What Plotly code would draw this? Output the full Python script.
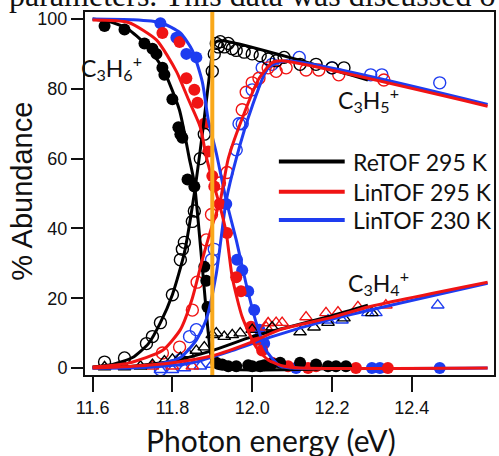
import plotly.graph_objects as go

# ---------------- data ----------------
# ReTOF 295 K (black)
re_c3h6_x = [11.63, 11.68, 11.73, 11.75, 11.76, 11.775, 11.78, 11.80, 11.815, 11.82, 11.825, 11.838, 11.855,
             11.88, 11.885, 11.888, 11.91, 11.925, 11.94, 11.96, 11.99, 12.0, 12.02, 12.03, 12.05, 12.07,
             12.12, 12.16, 12.19, 12.21, 12.235]
re_c3h6_y = [98, 97, 93, 91.5, 90, 86, 84, 77, 69, 67, 66, 54, 52,
             29, 25, 17.5, 1.5, 1, 0.5, 0.5, 0.8, 0.5, 0.5, 0.8, 1.2, 1.5,
             1.5, 1, 0.5, 0.5, 0.5]
re_c3h5_x = [11.63, 11.68, 11.735, 11.75, 11.77, 11.80, 11.82, 11.825, 11.83, 11.85, 11.855, 11.87, 11.88,
             11.9, 11.905, 11.91, 11.915, 11.92, 11.93, 11.94, 11.95, 11.96, 11.98, 12.0, 12.02, 12.04,
             12.06, 12.08, 12.12, 12.16, 12.2, 12.23]
re_c3h5_y = [1.7, 2.9, 7, 9, 13, 21, 31, 34, 36, 42, 45, 60, 67,
             85, 90, 93, 92, 93.5, 92, 93, 91.5, 91, 90.5, 90, 89.5, 88.5,
             88, 89, 87, 87, 86, 86]
re_c3h4_x = [11.63, 11.68, 11.72, 11.75, 11.78, 11.80, 11.82, 11.84, 11.86, 11.88, 11.9, 11.91, 11.93,
             11.95, 11.97, 12.0, 12.05, 12.12, 12.155, 12.19, 12.23, 12.3]
re_c3h4_y = [0.3, 0.3, 0.5, 1, 2, 2.5, 3, 4, 5, 6, 9.5, 10, 9,
             9.5, 10, 11, 11.7, 10.3, 11.7, 13, 14.3, 15.8]
re_fit6_x = [11.6, 11.65, 11.69, 11.73, 11.775, 11.8175, 11.8425, 11.855, 11.875, 11.89, 11.9, 11.91, 12.25]
re_fit6_y = [100, 99, 97, 93, 86, 74, 60, 53, 29, 10, 1.5, 0, 0]
re_fit5_x = [11.6, 11.65, 11.7, 11.74, 11.77, 11.8, 11.83, 11.855, 11.875, 11.8975, 11.905, 11.92, 12.29]
re_fit5_y = [0.3, 1, 3, 7, 13, 21, 33, 50, 67, 88, 93, 93.8, 82.5]
re_fit4_x = [11.6, 11.7, 11.8, 11.9, 12.0, 12.1, 12.2, 12.29]
re_fit4_y = [0, 0.5, 2, 5, 9, 12, 15, 18]

# LinTOF 295 K (red)
l295_c3h6_x = [11.775, 11.818, 11.835, 11.855, 11.863, 11.88, 11.89, 11.9, 11.905, 11.918, 11.937, 11.96,
               11.972, 11.997, 12.01, 12.025, 12.05, 12.09, 12.14, 12.16, 12.26, 12.34]
l295_c3h6_y = [96, 93.4, 83, 79.7, 76, 70, 62, 55, 52, 47, 38.7, 26,
               22, 11.8, 8, 5, 1.5, 0.5, 0, 0.5, 0, 0]
l295_c3h5_x = [11.775, 11.818, 11.85, 11.862, 11.885, 11.898, 11.918, 11.937, 11.975, 11.985, 12.0, 12.017,
               12.04, 12.06, 12.085, 12.135, 12.167, 12.217, 12.33]
l295_c3h5_y = [4.3, 6, 16.6, 24.6, 36.7, 44, 53, 56, 74, 79, 81.7, 83,
               86, 85, 86, 85.4, 85.4, 84, 82.5]
l295_c3h4_x = [11.75, 11.8, 11.85, 12.035, 12.04, 12.06, 12.075, 12.135, 12.185, 12.215, 12.265, 12.335]
l295_c3h4_y = [0.5, 0.5, 0.5, 11.7, 12.9, 13, 13, 14.6, 15.8, 16, 17.5, 18]
l295_fit6_x = [11.6, 11.69, 11.76, 11.81, 11.84, 11.87, 11.885, 11.9, 11.92, 11.935, 11.95, 11.975,
               12.01, 12.04, 12.08, 12.12, 12.59]
l295_fit6_y = [99.7, 99, 94, 85, 77, 69, 60.5, 54, 46, 38.7, 26, 14.6,
               6, 2.3, 0.5, 0, 0]
l295_fit5_x = [11.6, 11.69, 11.775, 11.82, 11.85, 11.875, 11.8975, 11.92, 11.94, 11.98, 12.0175, 12.05,
               12.075, 12.59]
l295_fit5_y = [0.3, 1.4, 5, 11, 20, 31, 40, 48, 60, 73, 83, 87.5,
               88, 75]
l295_fit4_x = [11.6, 11.7, 11.8, 11.9, 12.0, 12.07, 12.2, 12.29, 12.59]
l295_fit4_y = [0, 0.5, 1.5, 3.5, 7.5, 11, 14.5, 17.5, 24.6]

# LinTOF 230 K (blue)
l230_c3h6_x = [11.77, 11.81, 11.835, 11.86, 11.935, 11.962, 11.975, 11.99, 12.005, 12.018, 12.03,
               12.11, 12.3, 12.32, 12.47]
l230_c3h6_y = [98.8, 94.6, 90, 89, 47, 31, 28, 22, 16.6, 11, 7,
               0, 0, 0, 0]
l230_c3h5_x = [11.77, 11.82, 11.843, 11.86, 11.898, 11.905, 11.96, 11.967, 11.975, 12.0, 12.025, 12.05,
               12.118, 12.2, 12.297, 12.325, 12.47]
l230_c3h5_y = [-0.5, 2.3, 9, 11, 31, 34, 62.5, 70, 70, 79.7, 86, 87,
               89, 86, 84, 84, 81.7]
l230_c3h4_x = [11.77, 11.8, 11.83, 11.87, 11.9, 12.19, 12.225, 12.29, 12.31, 12.465]
l230_c3h4_y = [-0.5, -0.5, 0, 0.5, 1, 13.7, 13.7, 15.8, 15.8, 18]
l230_fit6_x = [11.6, 11.7, 11.77, 11.82, 11.85, 11.875, 11.89, 11.91, 11.935, 11.96, 11.985, 12.01,
               12.035, 12.07, 12.1, 12.59]
l230_fit6_y = [100, 99.8, 99, 96, 91, 82, 71, 61.6, 48, 36.7, 24, 13,
               5, 0.5, 0, 0]
l230_fit5_x = [11.6, 11.73, 11.82, 11.86, 11.885, 11.91, 11.935, 11.96, 12.0, 12.04, 12.085, 12.59]
l230_fit5_y = [0, 0.3, 3, 8, 14, 27, 48, 60, 75, 86, 88, 75.5]
l230_fit4_x = [11.6, 11.75, 11.85, 11.95, 12.05, 12.2, 12.59]
l230_fit4_y = [0, 0.3, 1.5, 5, 9, 14, 24.3]

threshold_ev = 11.9
x_ticks = [11.6, 11.8, 12.0, 12.2, 12.4]
y_ticks = [0, 20, 40, 60, 80, 100]
legend_names = ["ReTOF 295 K", "LinTOF 295 K", "LinTOF 230 K"]

# ---------------- styling ----------------
BLACK, RED, BLUE, ORANGE = "#000000", "#F01414", "#1E3CF0", "#F9A81B"
LABEL_FONT = "Lato"

fig = go.Figure()

def marks(x, y, color, symbol):
    filled = not symbol.endswith("open")
    fig.add_trace(go.Scatter(
        x=x, y=y, mode="markers", showlegend=False, hoverinfo="skip",
        marker=dict(symbol=symbol, size=12 if "circle" in symbol else 11,
                    color=color, line=dict(color=color, width=1.4 if not filled else 0))))

def fit(x, y, color):
    fig.add_trace(go.Scatter(x=x, y=y, mode="lines", showlegend=False, hoverinfo="skip",
                             line=dict(color=color, width=3, shape="spline", smoothing=0.6)))

# markers
marks(l230_c3h4_x, l230_c3h4_y, BLUE, "triangle-up-open")
marks(l230_c3h5_x, l230_c3h5_y, BLUE, "circle-open")
marks(l230_c3h6_x, l230_c3h6_y, BLUE, "circle")
marks(l295_c3h4_x, l295_c3h4_y, RED, "triangle-up-open")
marks(l295_c3h5_x, l295_c3h5_y, RED, "circle-open")
marks(l295_c3h6_x, l295_c3h6_y, RED, "circle")
marks(re_c3h4_x, re_c3h4_y, BLACK, "triangle-up-open")
marks(re_c3h5_x, re_c3h5_y, BLACK, "circle-open")
marks(re_c3h6_x, re_c3h6_y, BLACK, "circle")

# fits
fit(re_fit4_x, re_fit4_y, BLACK)
fit(re_fit5_x, re_fit5_y, BLACK)
fit(re_fit6_x, re_fit6_y, BLACK)
fit(l230_fit4_x, l230_fit4_y, BLUE)
fit(l230_fit5_x, l230_fit5_y, BLUE)
fit(l230_fit6_x, l230_fit6_y, BLUE)
fit(l295_fit4_x, l295_fit4_y, RED)
fit(l295_fit5_x, l295_fit5_y, RED)
fit(l295_fit6_x, l295_fit6_y, RED)

shapes = [dict(type="line", xref="x", yref="paper", x0=threshold_ev, x1=threshold_ev, y0=0, y1=1,
               line=dict(color=ORANGE, width=4), layer="above")]

annotations = []
# manual legend
leg_y = [0.588, 0.505, 0.427]
for name, col, yy in zip(legend_names, [BLACK, RED, BLUE], leg_y):
    shapes.append(dict(type="line", xref="paper", yref="paper", x0=0.474, x1=0.635, y0=yy, y1=yy,
                       line=dict(color=col, width=4)))
    annotations.append(dict(xref="paper", yref="paper", x=0.650, y=yy, xanchor="left", yanchor="middle",
                            text=name, showarrow=False, font=dict(family=LABEL_FONT, size=23, color="#111")))

# species labels
for txt, xx, yy in [("C<sub>3</sub>H<sub>6</sub><sup>+</sup>", 11.648, 86),
                    ("C<sub>3</sub>H<sub>5</sub><sup>+</sup>", 12.292, 77),
                    ("C<sub>3</sub>H<sub>4</sub><sup>+</sup>", 12.317, 24.5)]:
    annotations.append(dict(x=xx, y=yy, text=txt, showarrow=False, xanchor="center", yanchor="middle",
                            font=dict(family=LABEL_FONT, size=23, color="#111")))

# axis titles
annotations.append(dict(xref="paper", yref="paper", x=0.455, y=-0.179, text="Photon energy (eV)",
                        showarrow=False, xanchor="center", yanchor="middle",
                        font=dict(family=LABEL_FONT, size=30, color="#111")))
annotations.append(dict(xref="paper", yref="paper", x=-0.154, y=0.505, text="% Abundance", textangle=-90,
                        showarrow=False, xanchor="center", yanchor="middle",
                        font=dict(family="Liberation Sans", size=29, color="#111")))
# cropped caption text at the very top
annotations.append(dict(xref="paper", yref="paper", x=-0.19, y=1, yshift=-3, xanchor="left", yanchor="bottom",
                        text="parameters. This data was discussed o", showarrow=False,
                        font=dict(family="Liberation Serif", size=32, color="#111")))

fig.update_layout(
    width=499, height=456,
    margin=dict(l=85, r=3, t=12, b=81),
    paper_bgcolor="white", plot_bgcolor="white",
    shapes=shapes, annotations=annotations,
    xaxis=dict(range=[11.581, 12.606], tickvals=x_ticks, ticktext=[f"{v:.1f}" for v in x_ticks],
               ticks="outside", ticklen=15, tickwidth=2, tickcolor="#111",
               showline=True, mirror=True, linecolor="#111", linewidth=2, showgrid=False, zeroline=False,
               tickfont=dict(family="Liberation Sans", size=18, color="#111")),
    yaxis=dict(range=[-2, 102], tickvals=y_ticks,
               ticks="outside", ticklen=12, tickwidth=2, tickcolor="#111",
               showline=True, mirror=True, linecolor="#111", linewidth=2, showgrid=False, zeroline=False,
               tickfont=dict(family="Liberation Sans", size=18, color="#111")),
)

fig.write_html("out.html", config={"displayModeBar": False},
               post_script="document.body.style.margin='0';")
